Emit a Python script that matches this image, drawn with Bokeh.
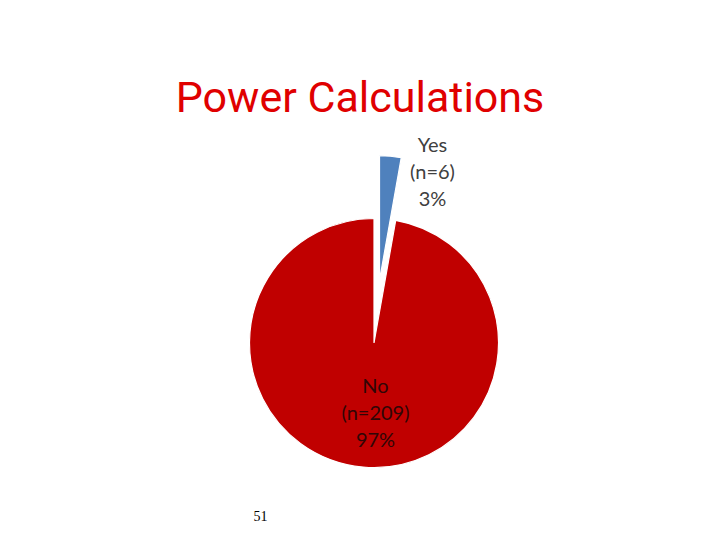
import math
from bokeh.plotting import figure
from bokeh.models import ColumnDataSource, Range1d
from bokeh.core.properties import value
from bokeh.embed import file_html
from bokeh.resources import INLINE

# ---- data ----
categories = ["Yes", "No"]
counts = [6, 209]
percents = ["3%", "97%"]
colors = ["#4f81bd", "#c00000"]
title_text = "Power Calculations"
page_number = "51"

W, H = 704, 524
p = figure(width=W, height=H, output_backend="svg", toolbar_location=None,
           x_range=Range1d(0, W), y_range=Range1d(0, H), min_border=0)
p.axis.visible = False
p.grid.visible = False
p.outline_line_color = None
p.background_fill_color = "white"
p.border_fill_color = "white"

# geometry (px in data units)
cx, cy, r = 373.5, 181.5, 124.5
explode = [63, 0]

total = sum(counts)
start = math.pi / 2
starts, ends, xs, ys = [], [], [], []
for c, ex in zip(counts, explode):
    sweep = c / total * 2 * math.pi
    end = start
    st = start - sweep
    mid = (st + end) / 2
    xs.append(cx + ex * math.cos(mid))
    ys.append(cy + ex * math.sin(mid))
    starts.append(st)
    ends.append(end)
    start = st

src = ColumnDataSource(dict(x=xs, y=ys, start=starts, end=ends, color=colors))
p.wedge(x="x", y="y", radius=r, start_angle="start", end_angle="end",
        fill_color="color", line_color="white", line_width=1.2, source=src)

# labels
lab_font = value("Lato")
yes_lines = [categories[0], "(n=%d)" % counts[0], percents[0]]
no_lines = [categories[1], "(n=%d)" % counts[1], percents[1]]
yes_x, yes_y0 = cx + 58.5, cy + 199.5
no_x, no_y0 = cx + 1.5, cy - 41.5
step = 27
p.text(x=[yes_x] * 3, y=[yes_y0 - i * step for i in range(3)], text=yes_lines,
       text_font=lab_font, text_font_size="20px", text_color="#404040",
       text_align="center", text_baseline="middle")
p.text(x=[no_x] * 3, y=[no_y0 - i * step for i in range(3)], text=no_lines,
       text_font=lab_font, text_font_size="20px", text_color="#300606",
       text_align="center", text_baseline="middle")

# title
p.text(x=[359.5], y=[428], text=[title_text], text_font=value("Roboto"),
       text_font_size="43px", text_color="#e00000", text_align="center",
       text_baseline="alphabetic")

# page number
p.text(x=[260], y=[9], text=[page_number], text_font=value("Liberation Serif"),
       text_font_size="14px", text_color="#000000", text_align="center",
       text_baseline="middle")

open("out.html", "w").write(file_html(p, INLINE))
